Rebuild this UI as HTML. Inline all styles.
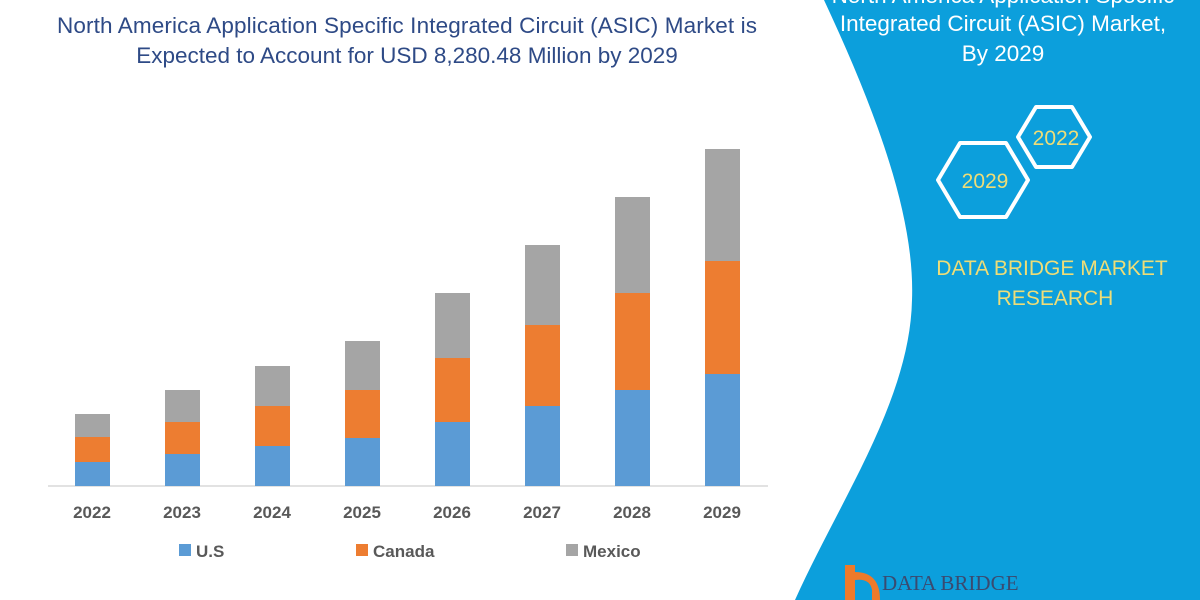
<!DOCTYPE html>
<html><head><meta charset="utf-8"><style>
body{margin:0;width:1200px;height:600px;overflow:hidden;background:#fff;font-family:"Liberation Sans",sans-serif;position:relative}
</style></head><body>
<svg width="1200" height="600" style="position:absolute;left:0;top:0">
<path d="M824,0 C880,120 915,220 912,300 C910,400 840,500 795,600 L1200,600 L1200,0 Z" fill="#0c9fdc"/>
<g font-family="Liberation Sans, sans-serif">
<text x="407" y="33" text-anchor="middle" font-size="22.5" fill="#2e4a86" textLength="700">North America Application Specific Integrated Circuit (ASIC) Market is</text>
<text x="407" y="63" text-anchor="middle" font-size="22.5" fill="#2e4a86">Expected to Account for USD 8,280.48 Million by 2029</text>
<text x="1003" y="3" text-anchor="middle" font-size="22.5" fill="#fff">North America Application Specific</text>
<text x="1003" y="31" text-anchor="middle" font-size="22.5" fill="#fff">Integrated Circuit (ASIC) Market,</text>
<text x="1003" y="61" text-anchor="middle" font-size="22.5" fill="#fff">By 2029</text>
</g>
<line x1="48" y1="486" x2="768" y2="486" stroke="#d9d9d9" stroke-width="1.5"/>
<g id="bars"></g>
<polygon points="938,180 960,143 1006,143 1028,180 1006,217 960,217" fill="none" stroke="#fff" stroke-width="4" stroke-linejoin="round"/>
<polygon points="1018,137 1036,107 1072,107 1090,137 1072,167 1036,167" fill="none" stroke="#fff" stroke-width="4" stroke-linejoin="round"/>
<g font-family="Liberation Sans, sans-serif" fill="#eedd77" text-anchor="middle">
<text x="985" y="188" font-size="21">2029</text>
<text x="1056" y="145" font-size="21">2022</text>
<text x="1052" y="275" font-size="21">DATA BRIDGE MARKET</text>
<text x="1055" y="305" font-size="21">RESEARCH</text>
</g>
<path d="M845,565 L845,600 L855,600 L855,580 Q870,578 872,590 L872,600 L880,600 Q880,572 855,572 L855,565Z" fill="#ee7a2a"/>
<text x="882" y="590" font-family="Liberation Serif, serif" font-size="21" fill="#3a4a70">DATA BRIDGE</text>
<g font-family="Liberation Sans, sans-serif" font-size="17" font-weight="bold" fill="#595959" text-anchor="middle" id="xl"></g>
<rect x="179" y="544" width="12" height="12" fill="#5b9bd5"/>
<rect x="356" y="544" width="12" height="12" fill="#ed7d31"/>
<rect x="566" y="544" width="12" height="12" fill="#a5a5a5"/>
<g font-family="Liberation Sans, sans-serif" font-size="17" font-weight="bold" fill="#595959">
<text x="196" y="557">U.S</text><text x="373" y="557">Canada</text><text x="583" y="557">Mexico</text>
</g>
</svg>
<script>
var d=[[414,437,462],[390,422,454],[366,406,446],[341,390,438],[293,358,422],[245,325,406],[197,293,390],[149,261,374]];
var g=document.getElementById('bars'),xl=document.getElementById('xl'),s='';
d.forEach(function(v,i){var x=75+i*90;
s+='<rect x="'+x+'" y="'+v[0]+'" width="35" height="'+(v[1]-v[0])+'" fill="#a5a5a5"/>';
s+='<rect x="'+x+'" y="'+v[1]+'" width="35" height="'+(v[2]-v[1])+'" fill="#ed7d31"/>';
s+='<rect x="'+x+'" y="'+v[2]+'" width="35" height="'+(486-v[2])+'" fill="#5b9bd5"/>';});
g.innerHTML=s;
var t='';for(var i=0;i<8;i++)t+='<text x="'+(92+i*90)+'" y="518">'+(2022+i)+'</text>';xl.innerHTML=t;
</script>
</body></html>
